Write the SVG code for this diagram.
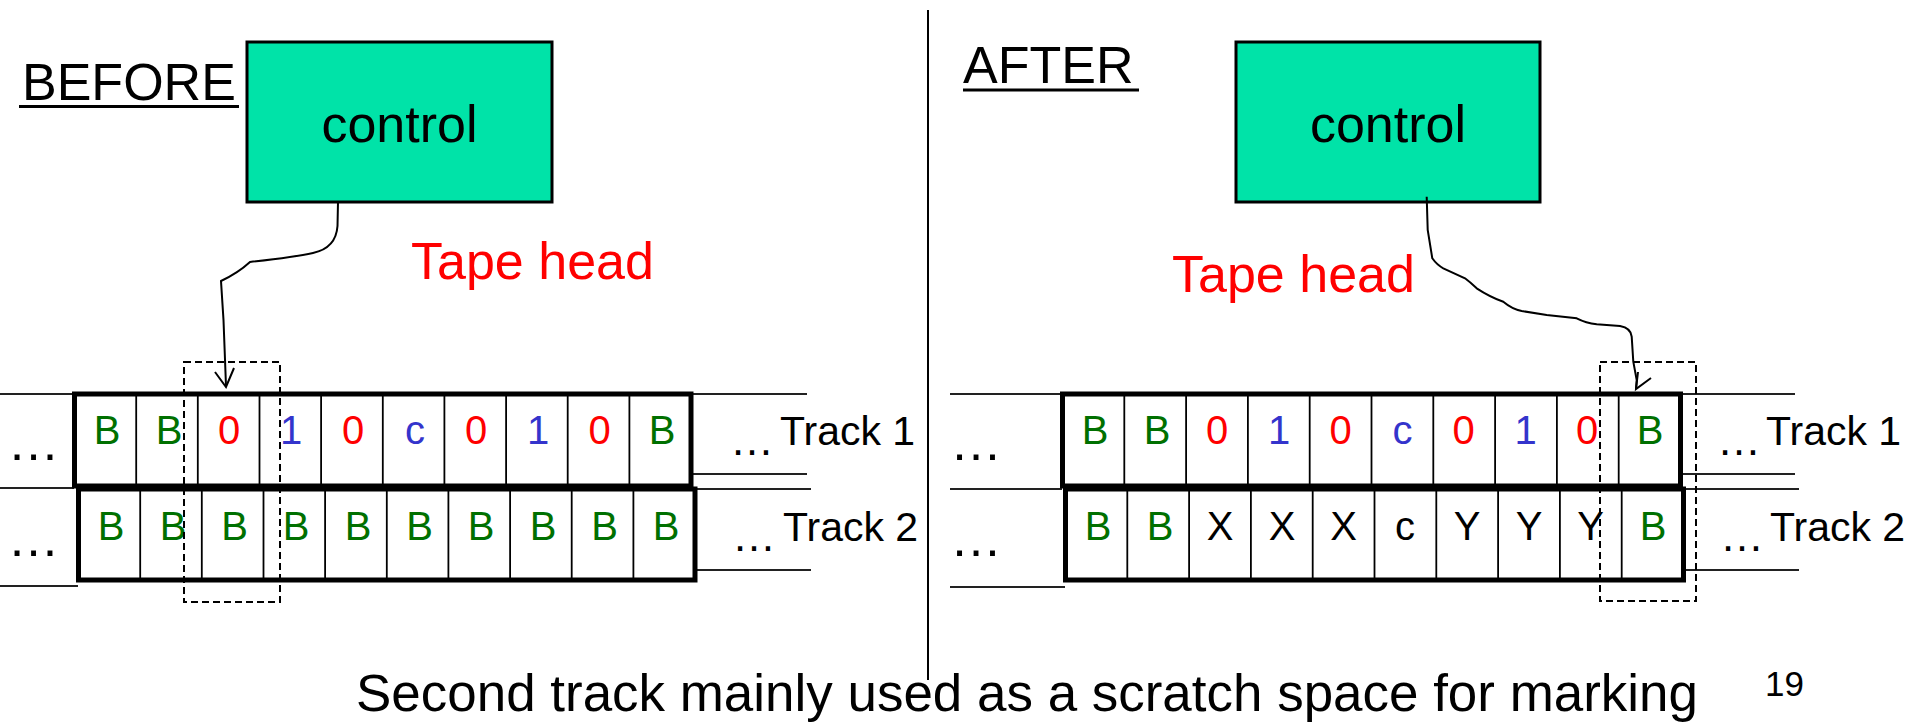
<svg xmlns="http://www.w3.org/2000/svg" width="1915" height="722" viewBox="0 0 1915 722">
<style>
text{font-family:"Liberation Sans",Arial,sans-serif}
.ctl{fill:#00e3a8;stroke:#000;stroke-width:3}
.big{font-size:52px;fill:#000}
.red{fill:#ff0000}
.cell{font-size:40px;text-anchor:middle}
.g{fill:#007000}.r{fill:#ff0000}.b{fill:#3434cc}.k{fill:#000}
.tape{fill:none;stroke:#000;stroke-width:5}
.div{stroke:#000;stroke-width:1.8}
.ln{stroke:#222;stroke-width:2}
.dash{fill:none;stroke:#000;stroke-width:2;stroke-dasharray:7 4}
.con{fill:none;stroke:#000;stroke-width:2}
.trk{font-size:41px;fill:#000}
.dl{font-size:52px;text-anchor:middle;fill:#000}
.ds{font-size:44px;text-anchor:middle;fill:#000}
</style>

<line x1="928" y1="10" x2="928" y2="680" stroke="#000" stroke-width="2"/>

<g id="label-before">
<text x="22" y="100" class="big">BEFORE</text>
<rect x="19" y="105" width="220" height="3" fill="#000"/>
</g>
<g id="label-after">
<text x="963" y="83" class="big">AFTER</text>
<rect x="963" y="88.5" width="176" height="3" fill="#000"/>
</g>

<g id="control-before">
<rect x="247" y="42" width="305" height="160" class="ctl"/>
<text x="399.5" y="142" class="big" text-anchor="middle">control</text>
</g>
<g id="control-after">
<rect x="1236" y="42" width="304" height="160" class="ctl"/>
<text x="1388" y="142" class="big" text-anchor="middle">control</text>
</g>

<text id="tapehead-before" x="411" y="279" class="big red">Tape head</text>
<text id="tapehead-after" x="1172" y="292" class="big red">Tape head</text>

<g id="tape-before">
<line x1="0" y1="394" x2="74" y2="394" class="ln"/>
<line x1="0" y1="488" x2="74" y2="488" class="ln"/>
<line x1="0" y1="586" x2="78" y2="586" class="ln"/>
<line x1="691" y1="394" x2="807" y2="394" class="ln"/>
<line x1="691" y1="474" x2="807" y2="474" class="ln"/>
<line x1="695" y1="489" x2="811" y2="489" class="ln"/>
<line x1="695" y1="570" x2="811" y2="570" class="ln"/>
<rect x="74.5" y="394" width="616.5" height="92" class="tape"/>
<rect x="78.5" y="489" width="616.5" height="91" class="tape"/>
<g class="div">
<line x1="136.2" y1="394" x2="136.2" y2="486"/><line x1="197.8" y1="394" x2="197.8" y2="486"/><line x1="259.5" y1="394" x2="259.5" y2="486"/><line x1="321.1" y1="394" x2="321.1" y2="486"/><line x1="382.8" y1="394" x2="382.8" y2="486"/><line x1="444.4" y1="394" x2="444.4" y2="486"/><line x1="506.1" y1="394" x2="506.1" y2="486"/><line x1="567.7" y1="394" x2="567.7" y2="486"/><line x1="629.4" y1="394" x2="629.4" y2="486"/>
<line x1="140.2" y1="489" x2="140.2" y2="580"/><line x1="201.8" y1="489" x2="201.8" y2="580"/><line x1="263.5" y1="489" x2="263.5" y2="580"/><line x1="325.1" y1="489" x2="325.1" y2="580"/><line x1="386.8" y1="489" x2="386.8" y2="580"/><line x1="448.4" y1="489" x2="448.4" y2="580"/><line x1="510.1" y1="489" x2="510.1" y2="580"/><line x1="571.7" y1="489" x2="571.7" y2="580"/><line x1="633.4" y1="489" x2="633.4" y2="580"/>
</g>
<text x="107" y="444" class="cell g">B</text>
<text x="169" y="444" class="cell g">B</text>
<text x="229" y="444" class="cell r">0</text>
<text x="291" y="444" class="cell b">1</text>
<text x="353" y="444" class="cell r">0</text>
<text x="415" y="444" class="cell b">c</text>
<text x="476" y="444" class="cell r">0</text>
<text x="538" y="444" class="cell b">1</text>
<text x="599.5" y="444" class="cell r">0</text>
<text x="662" y="444" class="cell g">B</text>
<text x="111" y="540" class="cell g">B</text>
<text x="173" y="540" class="cell g">B</text>
<text x="234.5" y="540" class="cell g">B</text>
<text x="296" y="540" class="cell g">B</text>
<text x="358" y="540" class="cell g">B</text>
<text x="419.5" y="540" class="cell g">B</text>
<text x="481" y="540" class="cell g">B</text>
<text x="543" y="540" class="cell g">B</text>
<text x="604.5" y="540" class="cell g">B</text>
<text x="666" y="540" class="cell g">B</text>
<text x="33.5" y="460" class="dl">…</text>
<text x="33.5" y="556" class="dl">…</text>
<text x="752" y="455" class="ds">…</text>
<text x="754" y="551" class="ds">…</text>
<text x="780" y="445" class="trk">Track 1</text>
<text x="783" y="541" class="trk">Track 2</text>
<rect x="184" y="362" width="96" height="240" class="dash"/>
</g>

<g id="tape-after">
<line x1="950" y1="394" x2="1062" y2="394" class="ln"/>
<line x1="950" y1="489" x2="1062" y2="489" class="ln"/>
<line x1="950" y1="587" x2="1065" y2="587" class="ln"/>
<line x1="1680" y1="394" x2="1795" y2="394" class="ln"/>
<line x1="1680" y1="474" x2="1795" y2="474" class="ln"/>
<line x1="1684" y1="489" x2="1799" y2="489" class="ln"/>
<line x1="1684" y1="570" x2="1799" y2="570" class="ln"/>
<rect x="1062.5" y="394" width="618" height="92" class="tape"/>
<rect x="1065.5" y="489" width="618" height="91" class="tape"/>
<g class="div">
<line x1="1124.3" y1="394" x2="1124.3" y2="486"/><line x1="1186.1" y1="394" x2="1186.1" y2="486"/><line x1="1247.9" y1="394" x2="1247.9" y2="486"/><line x1="1309.7" y1="394" x2="1309.7" y2="486"/><line x1="1371.5" y1="394" x2="1371.5" y2="486"/><line x1="1433.3" y1="394" x2="1433.3" y2="486"/><line x1="1495.1" y1="394" x2="1495.1" y2="486"/><line x1="1556.9" y1="394" x2="1556.9" y2="486"/><line x1="1618.7" y1="394" x2="1618.7" y2="486"/>
<line x1="1127.3" y1="489" x2="1127.3" y2="580"/><line x1="1189.1" y1="489" x2="1189.1" y2="580"/><line x1="1250.9" y1="489" x2="1250.9" y2="580"/><line x1="1312.7" y1="489" x2="1312.7" y2="580"/><line x1="1374.5" y1="489" x2="1374.5" y2="580"/><line x1="1436.3" y1="489" x2="1436.3" y2="580"/><line x1="1498.1" y1="489" x2="1498.1" y2="580"/><line x1="1559.9" y1="489" x2="1559.9" y2="580"/><line x1="1621.7" y1="489" x2="1621.7" y2="580"/>
</g>
<text x="1095" y="444" class="cell g">B</text>
<text x="1157" y="444" class="cell g">B</text>
<text x="1217" y="444" class="cell r">0</text>
<text x="1279" y="444" class="cell b">1</text>
<text x="1340.5" y="444" class="cell r">0</text>
<text x="1402.5" y="444" class="cell b">c</text>
<text x="1463.5" y="444" class="cell r">0</text>
<text x="1525.5" y="444" class="cell b">1</text>
<text x="1587" y="444" class="cell r">0</text>
<text x="1650" y="444" class="cell g">B</text>
<text x="1098" y="540" class="cell g">B</text>
<text x="1160" y="540" class="cell g">B</text>
<text x="1220" y="540" class="cell k">X</text>
<text x="1282" y="540" class="cell k">X</text>
<text x="1343.5" y="540" class="cell k">X</text>
<text x="1405" y="540" class="cell k">c</text>
<text x="1467" y="540" class="cell k">Y</text>
<text x="1529" y="540" class="cell k">Y</text>
<text x="1590.5" y="540" class="cell k">Y</text>
<text x="1653" y="540" class="cell g">B</text>
<text x="976" y="460" class="dl">…</text>
<text x="976" y="556" class="dl">…</text>
<text x="1739" y="455" class="ds">…</text>
<text x="1742" y="551" class="ds">…</text>
<text x="1766" y="445" class="trk">Track 1</text>
<text x="1770" y="541" class="trk">Track 2</text>
<rect x="1600" y="362" width="96" height="239" class="dash"/>
</g>

<g id="connectors">
<path class="con" d="M338,202 L337.5,226 Q336,248 313,253 Q295,257 250,262 Q238,273 221,281 L223.5,320 L226,386"/>
<path class="con" d="M215,372 L226,387 L234,368"/>
<path class="con" d="M1426.7,196.7 L1427.7,230 L1432.3,258.3 Q1437,265 1443.3,268.3 L1465,278.3 Q1470,282 1476.7,288.3 Q1490,297 1503.3,301.7 Q1512,309 1521.7,311 L1546.7,315 L1576.7,318.3 Q1586,323 1596.7,324.3 L1620,326 Q1631,328 1631.7,336.7 L1633.3,361.7 L1636.7,380 L1636,389"/>
<path class="con" d="M1638,372 L1636,389 L1651,378"/>
</g>

<text x="356" y="711" font-size="51" textLength="1342" lengthAdjust="spacingAndGlyphs" fill="#000">Second track mainly used as a scratch space for marking</text>
<text x="1765" y="696" font-size="35" fill="#000">19</text>
</svg>
